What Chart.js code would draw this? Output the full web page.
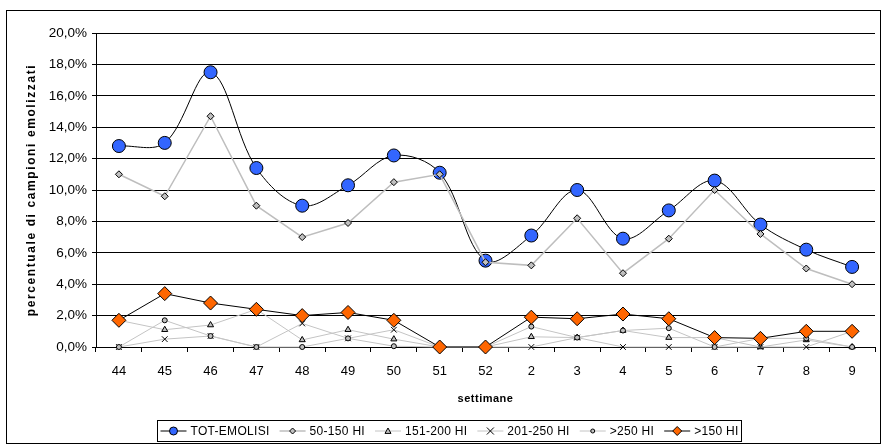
<!DOCTYPE html>
<html>
<head>
<meta charset="utf-8">
<script src="https://cdn.jsdelivr.net/npm/chart.js@4.4.1/dist/chart.umd.min.js"></script>
<style>
  html, body { margin: 0; padding: 0; background: #fff; }
  #wrap { width: 883px; height: 448px; }
</style>
</head>
<body>
<div id="wrap"><canvas id="emolisi" width="883" height="448"></canvas></div>
<script>
// settimane (44-52 del primo anno, 2-9 del successivo)
const weeks = ["44", "45", "46", "47", "48", "49", "50", "51", "52", "2", "3", "4", "5", "6", "7", "8", "9"];

// percentuali di campioni emolizzati per classe di HI
const totEmolisi = [12.8, 13.0, 17.5, 11.4, 9.0, 10.3, 12.2, 11.1, 5.5, 7.1, 10.0, 6.9, 8.7, 10.6, 7.8, 6.2, 5.1];
const hi50_150  = [11.0, 9.6, 14.7, 9.0, 7.0, 7.9, 10.5, 11.0, 5.4, 5.2, 8.2, 4.7, 6.9, 10.0, 7.2, 5.0, 4.0];
const hi151_200 = [1.7, 1.1, 1.4, 2.4, 0.45, 1.1, 0.5, 0, 0, 0.65, 0.6, 1.05, 0.6, 0.6, 0, 0.45, 0];
const hi201_250 = [0, 0.5, 0.7, 0, 1.5, 0.55, 1.1, 0, 0, 0, 0.6, 0, 0, 0, 0, 0, 1.0];
const hi250     = [0, 1.7, 0.7, 0, 0, 0.55, 0.05, 0, 0, 1.3, 0.6, 1.05, 1.2, 0, 0.55, 0.55, 0];
const hi150     = [1.7, 3.4, 2.8, 2.4, 2.0, 2.2, 1.7, 0, 0, 1.9, 1.8, 2.1, 1.8, 0.6, 0.55, 1.0, 1.0];

const yTicks = { min: 0, max: 20, step: 2 };

const FONT = "Arial, 'Liberation Sans', sans-serif";

function serie(label, data, o) {
  return Object.assign({
    label, data,
    borderWidth: 1,
    pointBorderColor: "#000",
    pointBorderWidth: 1,
    pointHoverRadius: 0,
    tension: 0,
    clip: false
  }, o);
}

const datasets = [
  serie("TOT-EMOLISI", totEmolisi, { borderColor: "#000", pointStyle: "circle", pointRadius: 6.5,
    pointBackgroundColor: "#3366FF", tension: 0.35, order: 6, legendR: 4 }),
  serie("50-150 HI", hi50_150, { borderColor: "#BEBEBE", borderWidth: 1.5, pointStyle: "rectRot", pointRadius: 3.5,
    pointBackgroundColor: "#C0C0C0", order: 5, legendR: 3 }),
  serie("151-200 HI", hi151_200, { borderColor: "#C4C4C4", pointStyle: "triangle", pointRadius: 3.5,
    pointBackgroundColor: "#C0C0C0", order: 4, legendR: 3 }),
  serie("201-250 HI", hi201_250, { borderColor: "#C4C4C4", pointStyle: "crossRot", pointRadius: 4,
    pointBackgroundColor: "#000", order: 3, legendR: 3.5 }),
  serie(">250 HI", hi250, { borderColor: "#C4C4C4", pointStyle: "circle", pointRadius: 2.5,
    pointBackgroundColor: "#C0C0C0", order: 2, legendR: 2 }),
  serie(">150 HI", hi150, { borderColor: "#000", pointStyle: "rectRot", pointRadius: 7,
    pointBackgroundColor: "#FF6600", order: 1, legendR: 4.5 })
];

// marcatori piccoli per la legenda
function marker(ctx, style, x, y, r, fill) {
  ctx.beginPath();
  if (style === "circle") {
    ctx.arc(x, y, r, 0, Math.PI * 2);
  } else if (style === "rectRot") {
    ctx.moveTo(x, y - r); ctx.lineTo(x + r, y); ctx.lineTo(x, y + r); ctx.lineTo(x - r, y); ctx.closePath();
  } else if (style === "triangle") {
    ctx.moveTo(x, y - r); ctx.lineTo(x + r, y + r * 0.8); ctx.lineTo(x - r, y + r * 0.8); ctx.closePath();
  } else if (style === "crossRot") {
    ctx.moveTo(x - r, y - r); ctx.lineTo(x + r, y + r);
    ctx.moveTo(x + r, y - r); ctx.lineTo(x - r, y + r);
    ctx.strokeStyle = "#000"; ctx.lineWidth = 1; ctx.stroke();
    return;
  }
  ctx.fillStyle = fill; ctx.fill();
  ctx.strokeStyle = "#000"; ctx.lineWidth = 1; ctx.stroke();
}

const cornice = {
  id: "cornice",
  afterDraw(chart) {
    const ctx = chart.ctx;
    const a = chart.chartArea;
    ctx.save();
    ctx.strokeStyle = "#000";
    ctx.lineWidth = 1;
    ctx.strokeRect(6.5, 10.5, 874, 433);

    ctx.fillStyle = "#000";
    ctx.font = "bold 11px " + FONT;
    ctx.textAlign = "center";
    ctx.textBaseline = "middle";
    ctx.letterSpacing = "0.5px";
    ctx.fillText("settimane", (a.left + a.right) / 2, 399);
    ctx.save();
    ctx.font = "bold 12px " + FONT;
    ctx.letterSpacing = "1.6px";
    ctx.translate(32, (a.top + a.bottom) / 2);
    ctx.rotate(-Math.PI / 2);
    ctx.fillText("percentuale di campioni emolizzati", 0, 0);
    ctx.restore();

    // legenda in basso, con riquadro
    ctx.font = "12px " + FONT;
    ctx.letterSpacing = "0.3px";
    ctx.textAlign = "left";
    const lineLen = 26, gapText = 4, gapItem = 10, pad = 3;
    const sets = chart.data.datasets;
    const widths = sets.map(ds => lineLen + gapText + ctx.measureText(ds.label).width);
    const total = Math.round(widths.reduce((s, w) => s + w, 0) + gapItem * (sets.length - 1) + pad * 2);
    const x0 = 157.5;
    const y0 = 420.5, h = 21;
    ctx.strokeRect(x0, y0, total, h);
    let cx = x0 + pad;
    const cy = y0 + h / 2;
    sets.forEach((ds, i) => {
      ctx.beginPath();
      ctx.moveTo(cx, cy); ctx.lineTo(cx + lineLen, cy);
      ctx.strokeStyle = ds.borderColor; ctx.lineWidth = ds.borderWidth;
      ctx.stroke();
      marker(ctx, ds.pointStyle, cx + lineLen / 2, cy, ds.legendR, ds.pointBackgroundColor);
      ctx.fillStyle = "#000";
      ctx.fillText(ds.label, cx + lineLen + gapText, cy + 1);
      cx += widths[i] + gapItem;
    });
    ctx.restore();
  }
};

new Chart(document.getElementById("emolisi"), {
  type: "line",
  data: { labels: weeks, datasets },
  options: {
    responsive: false,
    devicePixelRatio: 1,
    animation: false,
    events: [],
    layout: { padding: { top: 33, right: 4, left: 0, bottom: 0 } },
    plugins: { legend: { display: false }, tooltip: { enabled: false } },
    scales: {
      x: {
        offset: true,
        afterFit: s => { s.height = 101; },
        grid: { offset: true, drawOnChartArea: false, color: "#000", tickLength: 5 },
        border: { color: "#000" },
        ticks: { color: "#000", font: { family: FONT, size: 13 }, padding: 12, maxRotation: 0, autoSkip: false }
      },
      y: {
        min: yTicks.min,
        max: yTicks.max,
        afterFit: s => { s.width = 96; },
        grid: { color: "#000", tickLength: 4 },
        border: { color: "#000" },
        ticks: {
          stepSize: yTicks.step,
          color: "#000",
          font: { family: FONT, size: 13.5 },
          padding: 5,
          callback: v => v.toFixed(1).replace(".", ",") + "%"
        }
      }
    }
  },
  plugins: [cornice]
});
</script>
</body>
</html>
